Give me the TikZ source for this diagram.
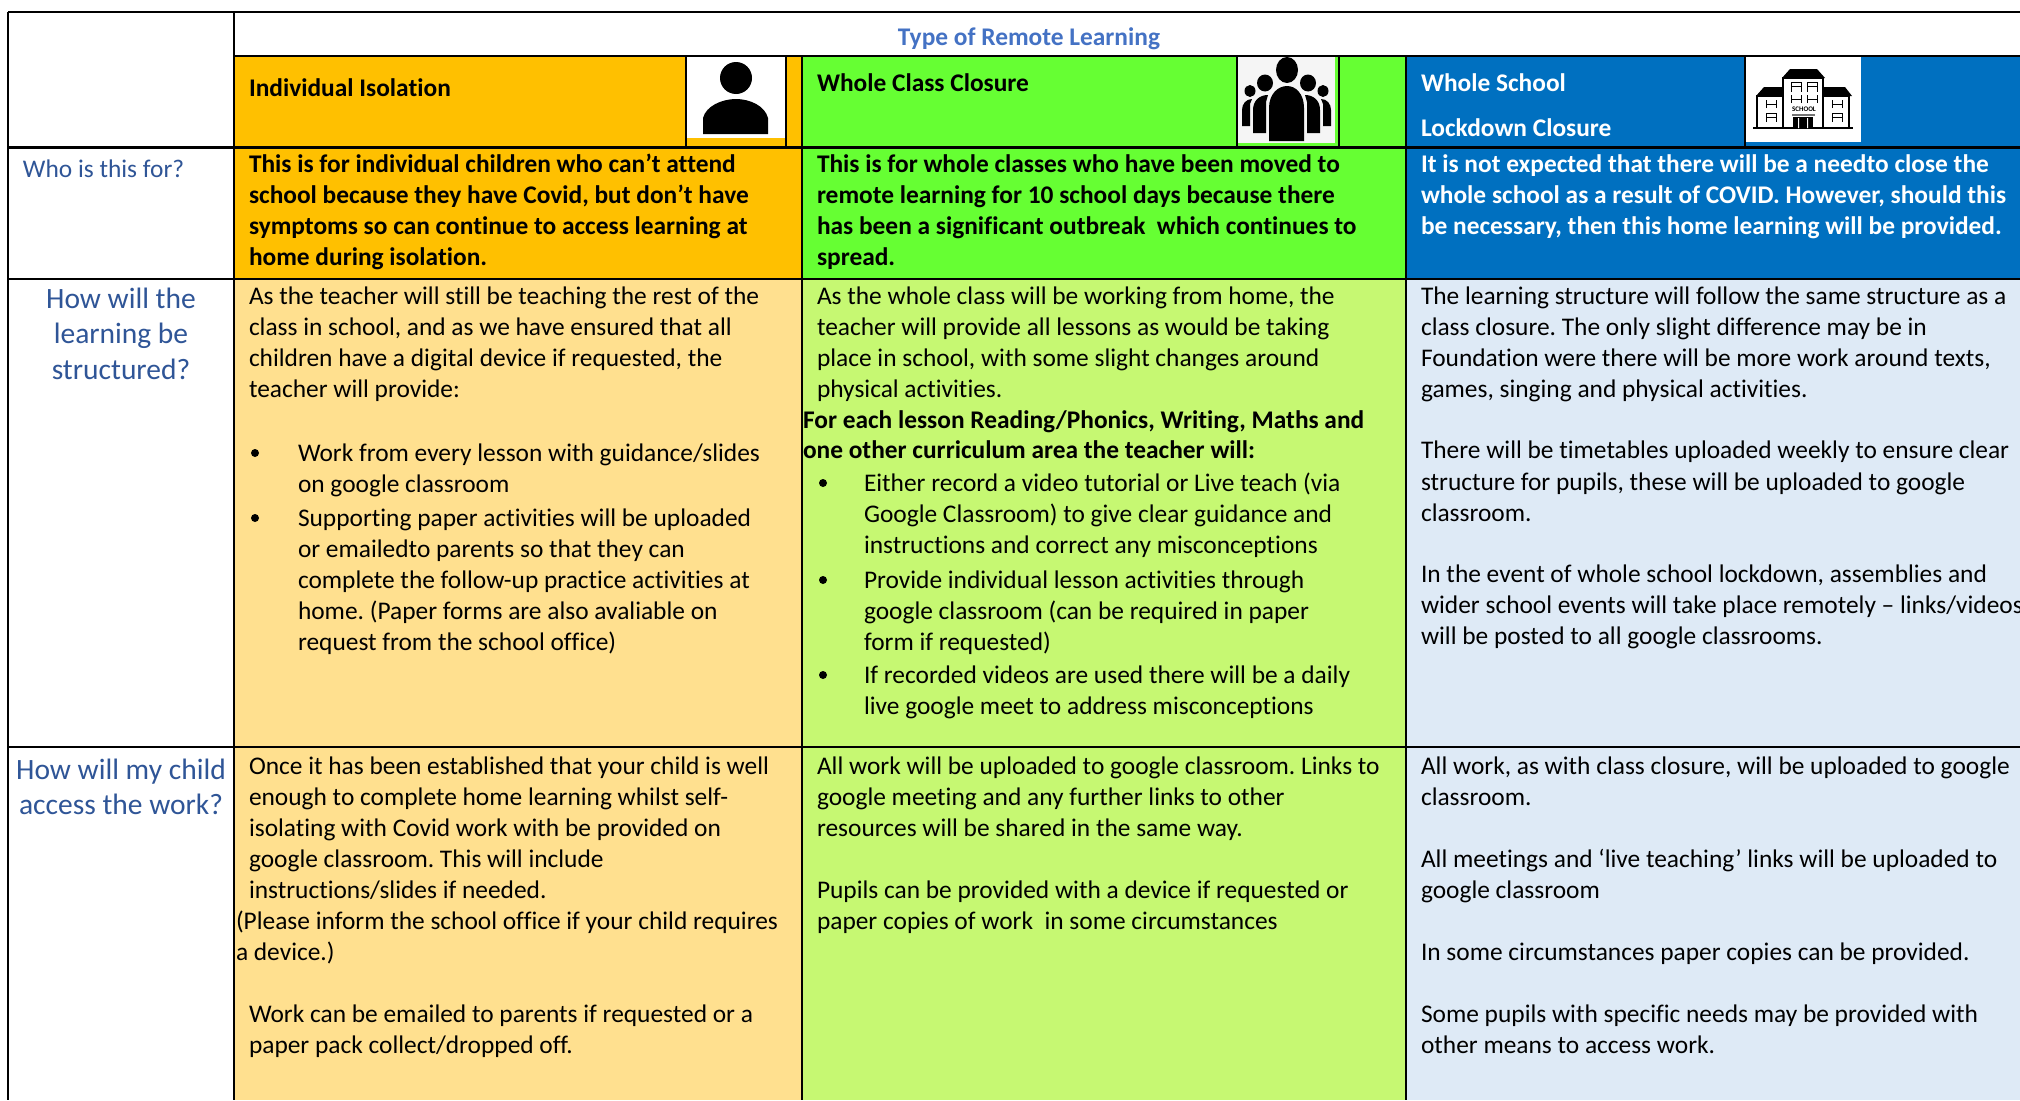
\documentclass[tikz,border=0pt]{standalone}
\usepackage{fontspec}
\setmainfont[Ligatures=NoCommon]{Carlito}
\definecolor{lblue}{HTML}{2F5597}
\definecolor{tblue}{HTML}{4472C4}
\definecolor{orangeA}{HTML}{FFC000}
\definecolor{orangeB}{HTML}{FFE08F}
\definecolor{greenA}{HTML}{66FF33}
\definecolor{greenB}{HTML}{C6F872}
\definecolor{blueA}{HTML}{0070C0}
\definecolor{blueB}{HTML}{DEEAF6}
\newcounter{tln}
\tikzset{
  txt/.style={anchor=base west,inner sep=0pt,outer sep=0pt,font=\fontsize{25.4}{30}\selectfont\frenchspacing,text=black},
  bld/.style={txt,font=\fontsize{25.4}{30}\selectfont\frenchspacing\bfseries},
  wht/.style={bld,text=white},
  lab/.style={anchor=base,inner sep=0pt,font=\fontsize{29.5}{34}\selectfont,text=lblue},
  rule/.style={line width=2.2pt,draw=black},
}
% \tl[style]{x}{y}{text}
\newcommand{\tl}[4][txt]{\stepcounter{tln}\node[#1] (t\arabic{tln}) at (#2,#3) {#4};}
\newcommand{\blt}[2]{\stepcounter{tln}\fill (#1,#2) circle (4) coordinate (t\arabic{tln});}
\begin{document}
\begin{tikzpicture}[x=1pt,y=-1pt]
\useasboundingbox (0,0) rectangle (2020,1100);
\clip (0,0) rectangle (2020,1100);
\fill[white] (0,0) rectangle (2020,1100);
% fills
\fill[orangeA] (234,56) rectangle (802,279);
\fill[greenA] (802,56) rectangle (1406,279);
\fill[blueA] (1406,56) rectangle (2020,279);
\fill[orangeB] (234,279) rectangle (802,1100);
\fill[greenB] (802,279) rectangle (1406,1100);
\fill[blueB] (1406,279) rectangle (2020,1100);
% icons backgrounds
\fill[white] (687,56) rectangle (785,138);
\fill[white!96!black] (1238,56) rectangle (1335,143);
\fill[white] (1746,56) rectangle (1861,142);
% person
\fill (736,78) circle (16);
\fill (703,134) -- (703,118) .. controls (706,106) and (722,99) .. (736,99) .. controls (750,99) and (765,106) .. (768,118) -- (768,134) -- cycle;
% group
\begin{scope}
\fill (1287,70) ellipse (11 and 13);
\fill (1265,83) ellipse (8 and 8.5);
\fill (1308,83) ellipse (8 and 8.5);
\fill (1250,91) ellipse (5.5 and 6);
\fill (1323,91) ellipse (5.5 and 6);
\fill (1242,126) -- (1242,110) .. controls (1242,104) and (1246,99) .. (1252,99) -- (1250,104) -- (1250,126) -- cycle;
\fill (1331,126) -- (1331,110) .. controls (1331,104) and (1327,99) .. (1321,99) -- (1323,104) -- (1323,126) -- cycle;
\fill (1253,133) -- (1253,110) .. controls (1253,101) and (1259,95) .. (1268,95) -- (1266,102) -- (1266,133) -- cycle;
\fill (1320,133) -- (1320,110) .. controls (1320,101) and (1314,95) .. (1305,95) -- (1307,102) -- (1307,133) -- cycle;
\fill (1269,141) -- (1269,108) .. controls (1269,94) and (1278,86) .. (1287,86) .. controls (1296,86) and (1304,94) .. (1304,108) -- (1304,141) -- cycle;
\end{scope}
% school
\begin{scope}
\draw[line width=1.2pt] (1757,128) rectangle (1849,96);
\fill[white] (1783,78) rectangle (1823,127);
\draw[line width=1.2pt] (1783,128) -- (1783,78) -- (1823,78) -- (1823,128);
\fill (1782,78) -- (1790,69) -- (1817,69) -- (1825,78) -- cycle;
\fill (1756,96) -- (1764,87) -- (1783,87) -- (1783,96) -- cycle;
\fill (1823,96) -- (1823,87) -- (1845,87) -- (1852,96) -- cycle;
\draw[line width=1.8pt] (1753,128) -- (1853,128);
\foreach \cx in {1796,1812} {
  \draw[line width=.7pt] (\cx-5,92) -- (\cx-5,82) -- (\cx+5,82) -- (\cx+5,92) (\cx-5,86) -- (\cx+5,86);
  \draw[line width=.7pt] (\cx-5,103) -- (\cx-5,95) (\cx+5,103) -- (\cx+5,95) (\cx-5,99) -- (\cx+5,99);
}
\foreach \cx in {1771,1837} {
  \draw[line width=.7pt] (\cx-5,108) -- (\cx-5,100) (\cx+5,108) -- (\cx+5,100) (\cx-5,104) -- (\cx+5,104);
  \draw[line width=.7pt] (\cx-5,122) -- (\cx-5,113) -- (\cx+5,113) -- (\cx+5,122) (\cx-5,117) -- (\cx+5,117);
}
\node[inner sep=0pt,font=\fontsize{7}{7}\selectfont\bfseries] (schoolword) at (1804,109.5) {SCHOOL};
\fill[black!55] (1792,114) rectangle (1815,116);
\fill (1793,117) rectangle (1813,128);
\fill[white] (1798,118) rectangle (1799,128) (1807,118) rectangle (1808,128);
\end{scope}
% rules
\draw[rule] (8,12) -- (2020,12);
\draw[rule] (234,56) -- (2020,56);
\draw[rule] (8,147.5) -- (2020,147.5);
\draw[rule] (8,279) -- (2020,279);
\draw[rule] (8,747) -- (2020,747);
\draw[rule] (8,12) -- (8,1100);
\draw[rule] (234,12) -- (234,1100);
\draw[rule] (802,56) -- (802,1100);
\draw[rule] (1406,56) -- (1406,1100);
\draw[line width=1.4pt] (686,56) -- (686,147);
\draw[line width=1.4pt] (786,56) -- (786,147);
\draw[line width=1.4pt] (1237,56) -- (1237,147);
\draw[line width=1.4pt] (1339,56) -- (1339,147);
\draw[line width=1.4pt] (1745,56) -- (1745,147);
% title and headers
\node[anchor=base,inner sep=0pt,font=\fontsize{25.4}{30}\selectfont\bfseries,text=tblue] (title) at (1029,45) {Type of Remote Learning};
\tl[bld]{249}{96}{Individual Isolation}
\tl[bld]{817}{91}{Whole Class Closure}
\tl[wht]{1421}{91}{Whole School}
\tl[wht]{1421}{136}{Lockdown Closure}
% row labels
\node[txt,text=lblue] (who) at (23,177) {Who is this for?};
\node[lab] (h1) at (121,308) {How will the};
\node[lab] (h2) at (121,343) {learning be};
\node[lab] (h3) at (121,379) {structured?};
\node[lab] (a1) at (121,779) {How will my child};
\node[lab] (a2) at (121,814) {access the work?};
% row 1
\tl[bld]{249}{172}{This is for individual children who can’t attend}
\tl[bld]{249}{203}{school because they have Covid, but don’t have}
\tl[bld]{249}{234}{symptoms so can continue to access learning at}
\tl[bld]{249}{265}{home during isolation.}
\tl[bld]{817}{172}{This is for whole classes who have been moved to}
\tl[bld]{817}{203}{remote learning for 10 school days because there}
\tl[bld]{817}{234}{has been a significant outbreak\ \ which continues to}
\tl[bld]{817}{265}{spread.}
\tl[wht]{1421}{172}{It is not expected that there will be a needto close the}
\tl[wht]{1421}{203}{whole school as a result of COVID. However, should this}
\tl[wht]{1421}{234}{be necessary, then this home learning will be provided.}
% row 2 col 1
\tl{249}{304}{As the teacher will still be teaching the rest of the}
\tl{249}{335}{class in school, and as we have ensured that all}
\tl{249}{366}{children have a digital device if requested, the}
\tl{249}{397}{teacher will provide:}
\blt{255}{453}
\tl{298}{461}{Work from every lesson with guidance/slides}
\tl{298}{492}{on google classroom}
\blt{255}{518}
\tl{298}{526}{Supporting paper activities will be uploaded}
\tl{298}{557}{or emailedto parents so that they can}
\tl{298}{588}{complete the follow-up practice activities at}
\tl{298}{619}{home. (Paper forms are also avaliable on}
\tl{298}{650}{request from the school office)}
% row 2 col 2
\tl{817}{304}{As the whole class will be working from home, the}
\tl{817}{335}{teacher will provide all lessons as would be taking}
\tl{817}{366}{place in school, with some slight changes around}
\tl{817}{397}{physical activities.}
\tl[bld]{803}{428}{For each lesson Reading/Phonics, Writing, Maths and}
\tl[bld]{803}{458}{one other curriculum area the teacher will:}
\blt{823}{483}
\tl{864}{491}{Either record a video tutorial or Live teach (via}
\tl{864}{522}{Google Classroom) to give clear guidance and}
\tl{864}{553}{instructions and correct any misconceptions}
\blt{823}{580}
\tl{864}{588}{Provide individual lesson activities through}
\tl{864}{619}{google classroom (can be required in paper}
\tl{864}{650}{form if requested)}
\blt{823}{675}
\tl{864}{683}{If recorded videos are used there will be a daily}
\tl{864}{714}{live google meet to address misconceptions}
% row 2 col 3
\tl{1421}{304}{The learning structure will follow the same structure as a}
\tl{1421}{335}{class closure. The only slight difference may be in}
\tl{1421}{366}{Foundation were there will be more work around texts,}
\tl{1421}{397}{games, singing and physical activities.}
\tl{1421}{458}{There will be timetables uploaded weekly to ensure clear}
\tl{1421}{490}{structure for pupils, these will be uploaded to google}
\tl{1421}{521}{classroom.}
\tl{1421}{582}{In the event of whole school lockdown, assemblies and}
\tl{1421}{613}{wider school events will take place remotely – links/videos}
\tl{1421}{644}{will be posted to all google classrooms.}
% row 3 col 1
\tl{249}{774}{Once it has been established that your child is well}
\tl{249}{805}{enough to complete home learning whilst self-}
\tl{249}{836}{isolating with Covid work with be provided on}
\tl{249}{867}{google classroom. This will include}
\tl{249}{898}{instructions/slides if needed.}
\tl{236}{929}{(Please inform the school office if your child requires}
\tl{236}{960}{a device.)}
\tl{249}{1022}{Work can be emailed to parents if requested or a}
\tl{249}{1053}{paper pack collect/dropped off.}
% row 3 col 2
\tl{817}{774}{All work will be uploaded to google classroom. Links to}
\tl{817}{805}{google meeting and any further links to other}
\tl{817}{836}{resources will be shared in the same way.}
\tl{817}{898}{Pupils can be provided with a device if requested or}
\tl{817}{929}{paper copies of work\ \ in some circumstances}
% row 3 col 3
\tl{1421}{774}{All work, as with class closure, will be uploaded to google}
\tl{1421}{805}{classroom.}
\tl{1421}{867}{All meetings and ‘live teaching’ links will be uploaded to}
\tl{1421}{898}{google classroom}
\tl{1421}{960}{In some circumstances paper copies can be provided.}
\tl{1421}{1022}{Some pupils with specific needs may be provided with}
\tl{1421}{1053}{other means to access work.}
\end{tikzpicture}
\end{document}
